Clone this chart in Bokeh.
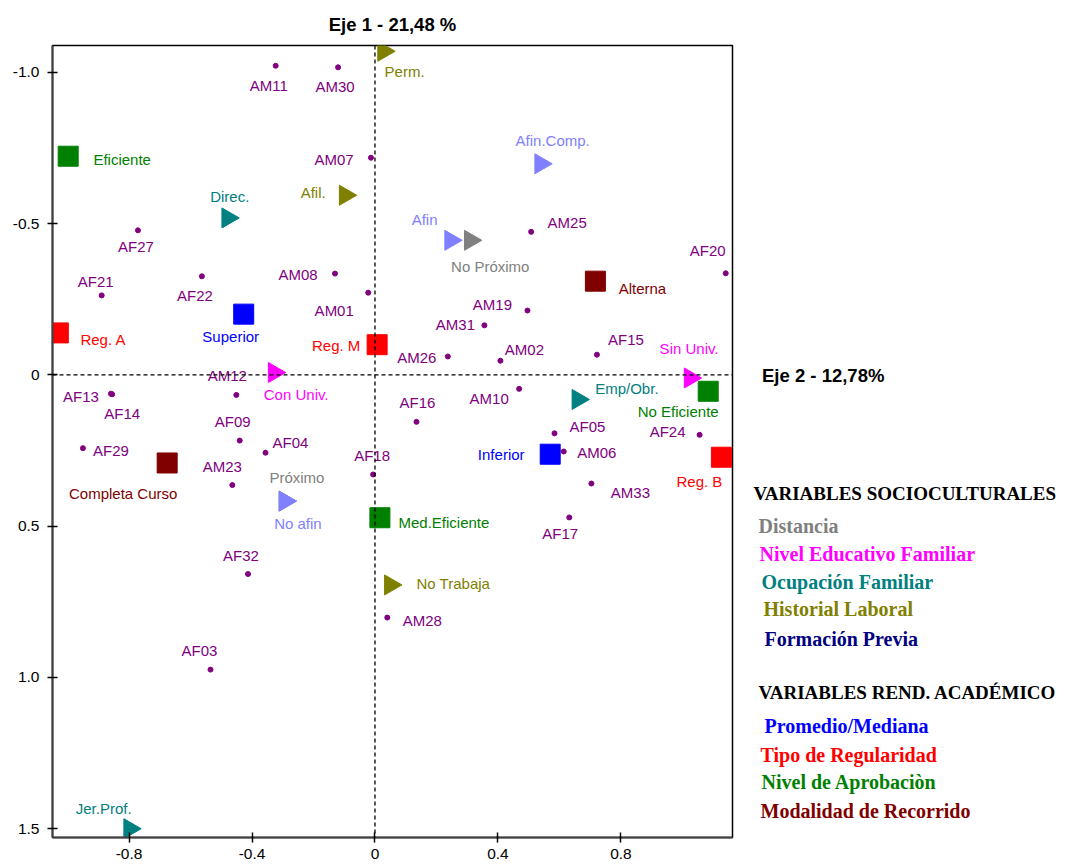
import numpy as np
from bokeh.plotting import figure
from bokeh.layouts import row
from bokeh.models import ColumnDataSource, Range1d, FixedTicker, Span, Title
from bokeh.embed import file_html
from bokeh.resources import INLINE
from bokeh.core.properties import value

# ---------------- data ----------------
ind_names = ["AM11", "AM30", "AM07", "AF27", "AF21", "AF22", "AM08", "AM01", "AM25", "AF20",
             "AM19", "AM31", "AM26", "AM02", "AF15", "AM12", "AF13", "AF14", "AM10", "AF16",
             "AF09", "AF04", "AF29", "AM23", "AF18", "AF32", "AF05", "AF24", "AM06", "AM33",
             "AF17", "AM28", "AF03"]
ind_x = [-0.323, -0.120, -0.013, -0.771, -0.889, -0.563, -0.130, -0.022, 0.508, 1.141,
         0.496, 0.356, 0.237, 0.408, 0.722, -0.451, -0.859, -0.855, 0.469, 0.135,
         -0.440, -0.356, -0.950, -0.464, -0.006, -0.413, 0.584, 1.056, 0.614, 0.704,
         0.632, 0.040, -0.535]
ind_y = [-1.022, -1.017, -0.718, -0.478, -0.263, -0.326, -0.335, -0.272, -0.473, -0.336,
         -0.213, -0.164, -0.061, -0.047, -0.067, 0.066, 0.062, 0.064, 0.046, 0.155,
         0.217, 0.257, 0.242, 0.364, 0.329, 0.658, 0.193, 0.198, 0.253, 0.359,
         0.471, 0.802, 0.974]

cat_names = ["Perm.", "Afil.", "No Trabaja",
             "Direc.", "Emp/Obr.", "Jer.Prof.",
             "Con Univ.", "Sin Univ.",
             "No Próximo", "Próximo",
             "Afin", "Afin.Comp.", "No afin",
             "Superior", "Inferior",
             "Reg. A", "Reg. M", "Reg. B",
             "Eficiente", "Med.Eficiente", "No Eficiente",
             "Alterna", "Completa Curso"]
cat_x = [0.028, -0.097, 0.050,
         -0.479, 0.660, -0.798,
         -0.328, 1.025,
         0.310, -0.293,
         0.246, 0.539, -0.293,
         -0.427, 0.570,
         -1.030, 0.007, 1.127,
         -0.998, 0.016, 1.084,
         0.717, -0.676]
cat_y = [-1.070, -0.594, 0.694,
         -0.519, 0.081, 1.500,
         -0.008, 0.010,
         -0.445, 0.417,
         -0.445, -0.698, 0.417,
         -0.201, 0.262,
         -0.139, -0.100, 0.272,
         -0.723, 0.472, 0.054,
         -0.310, 0.291]
cat_group = ["Historial Laboral"] * 3 + ["Ocupación Familiar"] * 3 + ["Nivel Educativo Familiar"] * 2 + \
            ["Distancia"] * 2 + ["Formación Previa"] * 3 + ["Promedio/Mediana"] * 2 + \
            ["Tipo de Regularidad"] * 3 + ["Nivel de Aprobaciòn"] * 3 + ["Modalidad de Recorrido"] * 2

socio_groups = ["Distancia", "Nivel Educativo Familiar", "Ocupación Familiar", "Historial Laboral", "Formación Previa"]
acad_groups = ["Promedio/Mediana", "Tipo de Regularidad", "Nivel de Aprobaciòn", "Modalidad de Recorrido"]
socio_title = "VARIABLES SOCIOCULTURALES"
acad_title = "VARIABLES REND. ACADÉMICO"

x_ticks = [-0.8, -0.4, 0.0, 0.4, 0.8]
x_tick_labels = ["-0.8", "-0.4", "0", "0.4", "0.8"]
y_ticks = [-1.0, -0.5, 0.0, 0.5, 1.0, 1.5]
y_tick_labels = ["-1.0", "-0.5", "0", "0.5", "1.0", "1.5"]

axis1_title = "Eje 1 - 21,48 %"
axis2_title = "Eje 2 - 12,78%"

# ---------------- styles / layout ----------------
group_style = {
    "Distancia": ("#808080", "#808080", "triangle"),
    "Nivel Educativo Familiar": ("#FF00FF", "#FF00FF", "triangle"),
    "Ocupación Familiar": ("#008080", "#008080", "triangle"),
    "Historial Laboral": ("#808000", "#808000", "triangle"),
    "Formación Previa": ("#8080FF", "#000080", "triangle"),
    "Promedio/Mediana": ("#0000FF", "#0000FF", "square"),
    "Tipo de Regularidad": ("#FF0000", "#FF0000", "square"),
    "Nivel de Aprobaciòn": ("#008000", "#008000", "square"),
    "Modalidad de Recorrido": ("#800000", "#800000", "square"),
}

ind_offsets = {
    "AM11": (-7, 20), "AM30": (-3, 19), "AM07": (-37, 2), "AF27": (-2, 16), "AF21": (-6, -14),
    "AF22": (-7, 19), "AM08": (-37, 1), "AM01": (-34, 18), "AM25": (36, -9), "AF20": (-18, -23),
    "AM19": (-35, -6), "AM31": (-29, -1), "AM26": (-31, 1), "AM02": (24, -11), "AF15": (29, -15),
    "AM12": (-9, -19), "AF13": (-30, 3), "AF14": (10, 19), "AM10": (-30, 10), "AF16": (1, -19),
    "AF09": (-7, -19), "AF04": (25, -10), "AF29": (28, 2), "AM23": (-10, -19), "AF18": (-1, -19),
    "AF32": (-7, -19), "AF05": (33, -7), "AF24": (-32, -3), "AM06": (33, 1), "AM33": (39, 9),
    "AF17": (-9, 16), "AM28": (35, 3), "AF03": (-11, -19),
}
cat_offsets = {
    "Perm.": (21, 20), "Eficiente": (54, 3), "Direc.": (2, -21), "Afil.": (-32, -3),
    "Afin": (-26, -21), "No Próximo": (20, 26), "Afin.Comp.": (12, -23), "Alterna": (47, 7),
    "Superior": (-13, 22), "Reg. A": (45, 7), "Reg. M": (-41, 1), "Con Univ.": (22, 22),
    "Completa Curso": (-44, 31), "Próximo": (12, -24), "No afin": (13, 22),
    "Med.Eficiente": (64, 5), "Sin Univ.": (-1, -29), "No Eficiente": (-30, 20),
    "Emp/Obr.": (49, -11), "Inferior": (-49, 0), "Reg. B": (-22, 24), "No Trabaja": (63, -1),
    "Jer.Prof.": (-26, -20),
}

H = 866
W1 = 745           # main plot canvas width
W2 = 1066 - W1     # text panel width
BL, BT = 52, 45
FW, FH = 680, 792
BR = W1 - BL - FW
BB = H - BT - FH
XL, XR = -1.049, 1.163
YT, YB = -1.089, 1.529

SANS = "Liberation Sans"
SERIF = "Liberation Serif"

p = figure(width=W1, height=H, output_backend="svg", toolbar_location=None,
           x_range=Range1d(XL, XR), y_range=Range1d(YB, YT),
           min_border_left=BL, min_border_right=BR, min_border_top=BT, min_border_bottom=BB)
p.xgrid.visible = False
p.ygrid.visible = False
p.outline_line_color = "black"
p.outline_line_width = 1.5
p.background_fill_color = "white"
p.border_fill_color = "white"

for ax, ticks, labels in ((p.xaxis, x_ticks, x_tick_labels), (p.yaxis, y_ticks, y_tick_labels)):
    ax.ticker = FixedTicker(ticks=ticks)
    ax.major_label_overrides = {t: l for t, l in zip(ticks, labels)}
    ax.axis_line_color = "#404040"
    ax.axis_line_width = 2
    ax.major_tick_line_color = "black"
    ax.major_tick_line_width = 1.5
    ax.major_tick_in = 5
    ax.major_tick_out = 5
    ax.minor_tick_line_color = None
    ax.major_label_text_font = SANS
    ax.major_label_text_font_size = "15.5px"
    ax.major_label_text_color = "black"
p.xaxis.major_label_standoff = 6
p.yaxis.major_label_standoff = 8

p.add_layout(Span(location=0, dimension="height", line_color="black", line_dash="4 3", line_width=1.3))
p.add_layout(Span(location=0, dimension="width", line_color="black", line_dash="4 3", line_width=1.3))

# individuals
ind_src = ColumnDataSource(dict(
    x=ind_x, y=ind_y, name=ind_names,
    dx=[ind_offsets[n][0] for n in ind_names],
    dy=[ind_offsets[n][1] for n in ind_names],
))
p.scatter("x", "y", source=ind_src, marker="circle", size=5, fill_color="#800080", line_color="#800080")
p.text("x", "y", text="name", source=ind_src, x_offset="dx", y_offset="dy",
       text_align="center", text_baseline="middle", text_font=value(SANS),
       text_font_size="15px", text_color="#800080")

# categories
cat_src = ColumnDataSource(dict(
    x=cat_x, y=cat_y, name=cat_names,
    color=[group_style[g][0] for g in cat_group],
    marker=[group_style[g][2] for g in cat_group],
    angle=[-np.pi / 2 if group_style[g][2] == "triangle" else 0.0 for g in cat_group],
    size=[20 for g in cat_group],
    dx=[cat_offsets[n][0] for n in cat_names],
    dy=[cat_offsets[n][1] for n in cat_names],
))
p.scatter("x", "y", source=cat_src, marker="marker", size="size", angle="angle",
          fill_color="color", line_color="color")
p.text("x", "y", text="name", source=cat_src, x_offset="dx", y_offset="dy",
       text_align="center", text_baseline="middle", text_font=value(SANS),
       text_font_size="15px", text_color="color")

# axis 1 title (above the frame, centred over it)
p.add_layout(Title(text=axis1_title, align="center", text_font=SANS, text_font_style="bold",
                   text_font_size="18.5px", text_color="black", standoff=22), "above")

# ---------------- right text panel (axis 2 title + variable legend) ----------------
# the row aligns this panel's frame with the main frame (page y 45..837)
p2 = figure(width=W2, height=H, output_backend="svg", toolbar_location=None,
            x_range=Range1d(W1, W1 + W2), y_range=Range1d(BT + FH, BT),
            x_axis_type=None, y_axis_type=None,
            min_border_left=0, min_border_right=0, min_border_top=BT, min_border_bottom=BB)
p2.xgrid.visible = False
p2.ygrid.visible = False
p2.outline_line_color = None
p2.background_fill_color = "white"
p2.border_fill_color = "white"

p2.text([761.5], [375], text=[axis2_title], text_align="left", text_baseline="middle",
        text_font=value(SANS), text_font_style="bold", text_font_size="18.5px", text_color="black")

head_pos = [(753, 493), (758, 692)]
socio_pos = [(758, 525), (759, 553), (761, 581), (763, 608), (764, 638)]
acad_pos = [(764, 725), (760, 754), (761, 781), (760, 810)]

p2.text([q[0] for q in head_pos], [q[1] for q in head_pos],
        text=[socio_title, acad_title], text_align="left", text_baseline="middle",
        text_font=value(SERIF), text_font_style="bold", text_font_size="19px", text_color="black")

leg_groups = socio_groups + acad_groups
leg_pos = socio_pos + acad_pos
p2.text([q[0] for q in leg_pos], [q[1] for q in leg_pos], text=leg_groups,
        text_color=[group_style[g][1] for g in leg_groups],
        text_align="left", text_baseline="middle",
        text_font=value(SERIF), text_font_style="bold", text_font_size="20px")

open("out.html", "w").write(file_html(row(p, p2), INLINE))
